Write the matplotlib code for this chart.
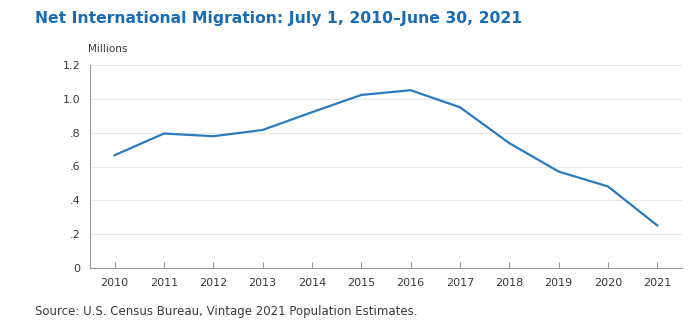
import matplotlib
matplotlib.use("Agg")
import matplotlib.pyplot as plt

# Net international migration, millions of people, year ending June 30
years = [2010, 2011, 2012, 2013, 2014, 2015, 2016, 2017, 2018, 2019, 2020, 2021]
migration = [0.667, 0.795, 0.779, 0.816, 0.921, 1.023, 1.051, 0.950, 0.738, 0.570, 0.482, 0.251]
y_ticks = [0, 0.2, 0.4, 0.6, 0.8, 1.0, 1.2]
y_labels = ["0", ".2", ".4", ".6", ".8", "1.0", "1.2"]

title = "Net International Migration: July 1, 2010\u2013June 30, 2021"
source = "Source: U.S. Census Bureau, Vintage 2021 Population Estimates."

plt.rcParams["font.family"] = ["DejaVu Sans"]

W, H = 700, 328
fig = plt.figure(figsize=(W / 100, H / 100), dpi=100)
ax = fig.add_axes([90 / W, (H - 268) / H, (682 - 90) / W, (268 - 65) / H])

ax.plot(years, migration, color="#2b7bbf", linewidth=1.6, solid_joinstyle="round")

ax.set_xlim(2009.5, 2021.5)
ax.set_ylim(0, 1.2)
ax.set_xticks(years)
ax.set_xticklabels([str(y) for y in years])
ax.set_yticks(y_ticks)
ax.set_yticklabels(y_labels)

ax.grid(axis="y", color="#e8e8e8", linewidth=0.8)
ax.set_axisbelow(True)
for side in ("top", "right"):
    ax.spines[side].set_visible(False)
for side in ("left", "bottom"):
    ax.spines[side].set_color("#9a9a9a")
    ax.spines[side].set_linewidth(0.8)

ax.tick_params(axis="x", direction="in", length=4, width=0.8, color="#9a9a9a",
               labelsize=8, labelcolor="#3a3a3a", pad=7)
ax.tick_params(axis="y", length=0, labelsize=8, labelcolor="#3a3a3a", pad=7)


def fitted_text(x_px, y_px, s, width_px, **kw):
    t = fig.text(x_px / W, 1 - y_px / H, s, va="center", ha="left", **kw)
    r = fig.canvas.get_renderer()
    w = t.get_window_extent(renderer=r).width
    t.set_fontsize(t.get_fontsize() * width_px / w)
    return t


fitted_text(35, 18, title, 485, color="#1b6db3", fontsize=11, fontweight="bold")
fig.text(88 / W, 1 - 49 / H, "Millions", color="#3a3a3a", fontsize=7.5, va="center", ha="left")
fitted_text(35, 311, source, 383, color="#3a3a3a", fontsize=7.5)

fig.savefig("out.png", dpi=100, facecolor="white")
